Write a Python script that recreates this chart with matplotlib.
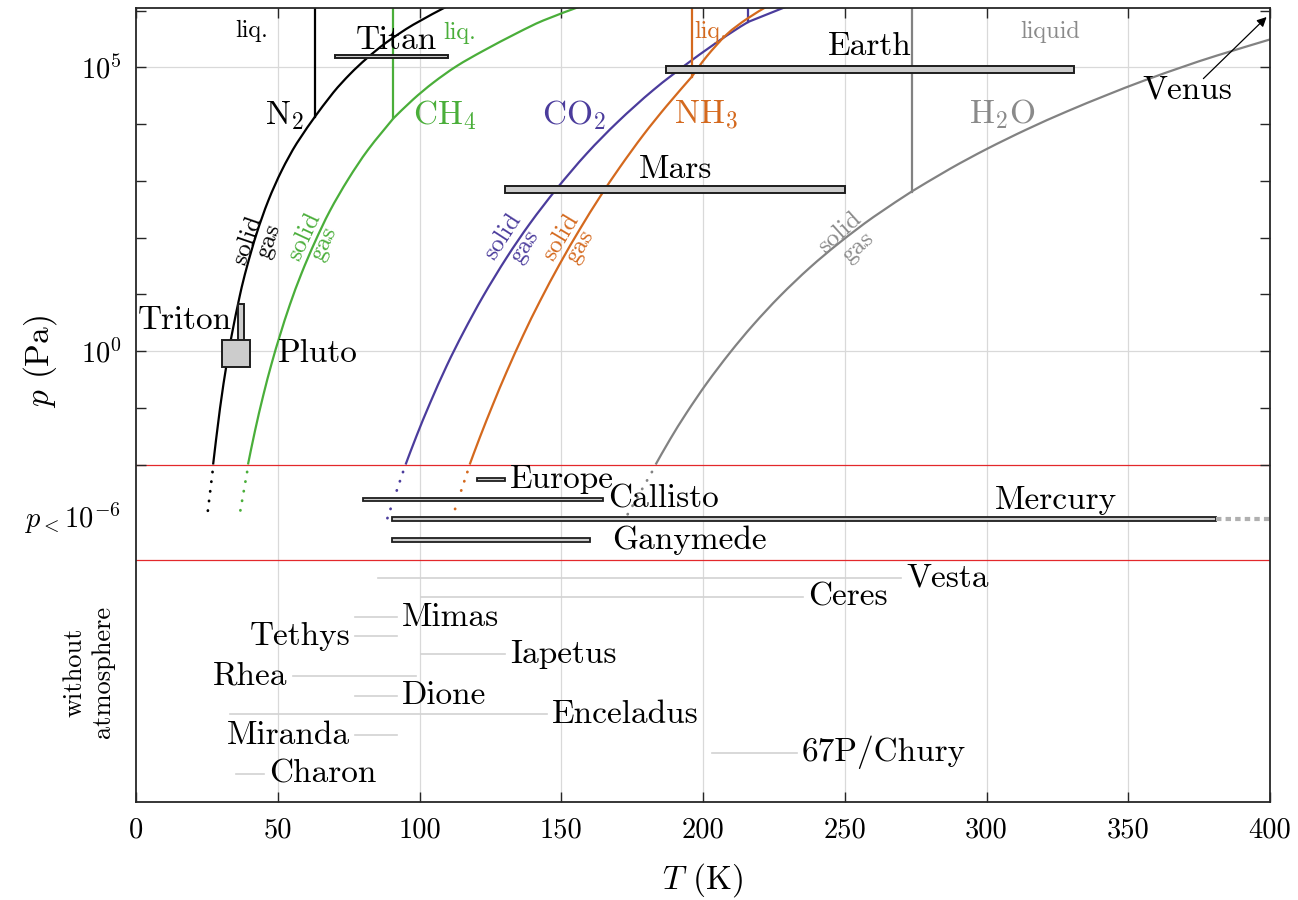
import matplotlib
matplotlib.use('Agg')
import matplotlib.pyplot as plt
from matplotlib.patches import Rectangle, PathPatch
from matplotlib.path import Path
import matplotlib.transforms as mtransforms

plt.rcParams['font.family'] = 'serif'
plt.rcParams['font.serif'] = ['cmr10']
plt.rcParams['mathtext.fontset'] = 'cm'
plt.rcParams['axes.unicode_minus'] = False
plt.rcParams['axes.formatter.use_mathtext'] = True

# ---------------- data (T in K, y = log10(p / Pa)) ----------------
n2_sub_T = [27.2, 29.63, 32.0, 33.76, 36.68, 39.05, 42.58, 46.67, 51.4, 56.7, 63.14]
n2_sub_L = [-2.0, -1.01, -0.22, 0.28, 0.99, 1.47, 2.075, 2.65, 3.18, 3.66, 4.13]
n2_liq_T = [63.14, 69.6, 75.5, 81.4, 88.4, 97.8, 109.6]
n2_liq_L = [4.13, 4.555, 4.88, 5.157, 5.44, 5.75, 6.07]

ch4_sub_T = [39.5, 42.0, 44.9, 47.9, 50.8, 54.3, 58.4, 63.1, 68.4, 74.9, 81.9, 90.8]
ch4_sub_L = [-2.0, -1.40, -0.78, -0.21, 0.28, 0.82, 1.37, 1.92, 2.47, 3.03, 3.55, 4.10]
ch4_liq_T = [90.8, 97.8, 104.9, 113.1, 122.5, 134.3, 143.7, 156.6]
ch4_liq_L = [4.10, 4.435, 4.73, 5.02, 5.29, 5.60, 5.825, 6.07]

co2_sub_T = [95.1, 99.0, 103.7, 109.6, 115.5, 122.5, 130.8, 139.0, 148.4, 159.0, 170.0, 182.5, 195.4, 208.4, 216.0]
co2_sub_L = [-2.0, -1.49, -0.92, -0.26, 0.33, 0.97, 1.65, 2.25, 2.86, 3.48, 4.04, 4.60, 5.10, 5.56, 5.80]
co2_liq_T = [216.0, 229.5]
co2_liq_L = [5.80, 6.07]

nh3_sub_T = [117.7, 121.3, 126.0, 130.8, 136.6, 142.5, 149.6, 156.6, 163.7, 170.7, 179.0, 187.2, 196.0]
nh3_sub_L = [-2.0, -1.52, -0.93, -0.36, 0.28, 0.88, 1.545, 2.15, 2.72, 3.24, 3.81, 4.32, 4.83]
nh3_liq_T = [196.0, 201.3, 208.4, 215.4, 222.5]
nh3_liq_L = [4.83, 5.19, 5.58, 5.85, 6.07]

h2o_sub_T = [183.3, 188.4, 194.2, 201.3, 209.5, 217.7, 227.2, 237.7, 248.3, 260.1, 273.6]
h2o_sub_L = [-2.0, -1.555, -1.09, -0.57, -0.03, 0.46, 0.97, 1.47, 1.915, 2.36, 2.81]
h2o_liq_T = [273.6, 287.1, 300.1, 314.2, 328.3, 342.4, 355.3, 369.4, 381.2, 400.0]
h2o_liq_L = [2.81, 3.21, 3.56, 3.905, 4.22, 4.51, 4.76, 5.01, 5.205, 5.49]

# dotted continuation below 10^-2 Pa : (T at start, T at end)
dot_T_start = {'N2': 27.0, 'CH4': 39.2, 'CO2': 94.2, 'NH3': 116.9, 'H2O': 182.0}
dot_T_end = {'N2': 25.0, 'CH4': 36.3, 'CO2': 88.6, 'NH3': 111.4, 'H2O': 172.5}

# bodies with atmosphere: T range and log10(p) range
atm_names = ['Titan', 'Earth', 'Mars', 'Triton', 'Pluto']
atm_tmin = [70.2, 187.1, 130.2, 36.1, 30.2]
atm_tmax = [110.0, 331.0, 250.2, 38.1, 40.2]
atm_lmin = [5.158, 4.904, 2.779, 0.164, -0.287]
atm_lmax = [5.216, 5.022, 2.907, 0.828, 0.194]

# bodies with p < 1e-6 Pa (row level, T range)
thin_names = ['Europe', 'Callisto', 'Mercury', 'Ganymede']
thin_level = [-2.262, -2.614, -2.958, -3.332]
thin_tmin = [120.2, 80.0, 90.2, 90.2]
thin_tmax = [130.2, 164.7, 380.8, 160.0]

# bodies without atmosphere
noatm_names = ['Vesta', 'Ceres', 'Mimas', 'Tethys', 'Iapetus', 'Rhea', 'Dione',
               'Enceladus', 'Miranda', '67P/Chury', 'Charon']
noatm_level = [-4.005, -4.340, -4.693, -5.022, -5.339, -5.722, -6.074, -6.402, -6.767, -7.079, -7.459]
noatm_tmin = [85.3, 100.4, 77.4, 77.4, 100.4, 55.3, 77.4, 33.3, 77.4, 203.3, 35.2]
noatm_tmax = [270.0, 235.2, 91.9, 91.9, 130.2, 98.8, 91.9, 144.9, 91.9, 233.0, 45.0]
noatm_side = ['r', 'r', 'r', 'l', 'r', 'l', 'r', 'r', 'l', 'r', 'r']

x_ticks = [0, 50, 100, 150, 200, 250, 300, 350, 400]

# ---------------- style ----------------
c_n2, c_ch4, c_co2, c_nh3, c_h2o = '#000000', '#4aae3a', '#4b3c9c', '#d4691e', '#828282'
c_h2o_txt = '#8a8a8a'
YBOT, YTOP = -7.947, 6.053
LBL = 24
SMALL = 17.5
TICK = 20.5

fig = plt.figure(figsize=(12.98, 9.0), dpi=100)
ax = fig.add_axes([136 / 1298, 98 / 900, 1134 / 1298, 794.5 / 900])
ax.set_xlim(0, 400)
ax.set_ylim(YBOT, YTOP)


def smooth_curve(T, L, color):
    """Draw a smooth (Catmull-Rom / Bezier) path through the read points."""
    pts = list(zip(T, L))
    n = len(pts)
    if n < 3:
        ax.plot(T, L, color=color, lw=1.6, zorder=2)
        return
    verts = [pts[0]]
    codes = [Path.MOVETO]
    for i in range(n - 1):
        p0 = pts[i - 1] if i > 0 else pts[i]
        p1 = pts[i]
        p2 = pts[i + 1]
        p3 = pts[i + 2] if i + 2 < n else pts[i + 1]
        c1 = (p1[0] + (p2[0] - p0[0]) / 6, p1[1] + (p2[1] - p0[1]) / 6)
        c2 = (p2[0] - (p3[0] - p1[0]) / 6, p2[1] - (p3[1] - p1[1]) / 6)
        verts += [c1, c2, p2]
        codes += [Path.CURVE4] * 3
    ax.add_patch(PathPatch(Path(verts, codes), fc='none', ec=color, lw=1.6, zorder=2))


# grid
for xv in x_ticks[1:-1]:
    ax.axvline(xv, color='#d9d9d9', lw=0.9, zorder=0)
for yv in (0, 5):
    ax.axhline(yv, color='#d9d9d9', lw=0.9, zorder=0)

# separators
ax.axhline(-2.0, color='#e3282b', lw=0.9, zorder=1.5)
ax.axhline(-3.683, color='#e3282b', lw=0.9, zorder=1.5)

curves = [
    ('N2', c_n2, n2_sub_T, n2_sub_L, n2_liq_T, n2_liq_L),
    ('CH4', c_ch4, ch4_sub_T, ch4_sub_L, ch4_liq_T, ch4_liq_L),
    ('CO2', c_co2, co2_sub_T, co2_sub_L, co2_liq_T, co2_liq_L),
    ('NH3', c_nh3, nh3_sub_T, nh3_sub_L, nh3_liq_T, nh3_liq_L),
    ('H2O', c_h2o, h2o_sub_T, h2o_sub_L, h2o_liq_T, h2o_liq_L),
]
for key, col, sT, sL, lT, lL in curves:
    smooth_curve(sT, sL, col)
    smooth_curve(lT, lL, col)
    # solid-liquid boundary (vertical from triple point)
    ax.plot([lT[0], lT[0]], [lL[0], YTOP + 0.1], color=col, lw=1.6, zorder=2)
    # dotted continuation
    ax.plot([dot_T_start[key], dot_T_end[key]], [-2.13, thin_level[2]], color=col, lw=2.0,
            ls=(0, (0.1, 3.4)), dash_capstyle='round', zorder=2)

# bars
for tmin, tmax, lmin, lmax in zip(atm_tmin, atm_tmax, atm_lmin, atm_lmax):
    ax.add_patch(Rectangle((tmin, lmin), tmax - tmin, lmax - lmin, fc='#cccccc',
                           ec='#1e1e1e', lw=1.4, zorder=3))
bar_h = 0.06
for lv, tmin, tmax in zip(thin_level, thin_tmin, thin_tmax):
    ax.add_patch(Rectangle((tmin, lv - bar_h / 2), tmax - tmin, bar_h, fc='#cccccc',
                           ec='#1e1e1e', lw=1.3, zorder=3))
ax.plot([thin_tmax[2], 400], [thin_level[2], thin_level[2]], color='#b0b0b0', lw=3.0,
        ls=(0, (1.3, 1.0)), zorder=3)

# without atmosphere lines + labels
for name, lv, tmin, tmax, side in zip(noatm_names, noatm_level, noatm_tmin, noatm_tmax, noatm_side):
    ax.plot([tmin, tmax], [lv, lv], color='#d2d2d2', lw=1.2, zorder=1)
    if side == 'r':
        ax.text(tmax + 1.8, lv, name, ha='left', va='center', fontsize=LBL, zorder=4)
    else:
        ax.text(tmin - 1.8, lv, name, ha='right', va='center', fontsize=LBL, zorder=4)

# band labels
ax.text(131.9, thin_level[0], 'Europe', ha='left', va='center', fontsize=LBL, zorder=4)
ax.text(166.5, thin_level[1], 'Callisto', ha='left', va='center', fontsize=LBL, zorder=4)
ax.text(324.5, -2.63, 'Mercury', ha='center', va='center', fontsize=LBL, zorder=4)
ax.text(167.9, thin_level[3], 'Ganymede', ha='left', va='center', fontsize=LBL, zorder=4)

# body labels
ax.text(91.7, 5.48, 'Titan', ha='center', va='center', fontsize=LBL, zorder=4)
ax.text(258.9, 5.362, 'Earth', ha='center', va='center', fontsize=LBL, zorder=4)
ax.text(190.4, 3.204, 'Mars', ha='center', va='center', fontsize=LBL, zorder=4)
ax.text(33.75, 0.537, 'Triton', ha='right', va='center', fontsize=LBL, zorder=4)
ax.text(50.2, -0.035, 'Pluto', ha='left', va='center', fontsize=LBL, zorder=4)
ax.text(370.9, 4.60, 'Venus', ha='center', va='center', fontsize=LBL, zorder=4)
ax.annotate('', xy=(398.8, 5.885), xytext=(376.5, 4.80),
            arrowprops=dict(arrowstyle='-|>', color='k', lw=0.9, mutation_scale=14,
                            shrinkA=0, shrinkB=0), zorder=4)

# substance labels
ax.text(52.4, 4.14, r'N$_2$', color=c_n2, ha='center', va='center', fontsize=LBL)
ax.text(108.8, 4.16, r'CH$_4$', color=c_ch4, ha='center', va='center', fontsize=LBL)
ax.text(154.5, 4.16, r'CO$_2$', color=c_co2, ha='center', va='center', fontsize=LBL)
ax.text(201.1, 4.16, r'NH$_3$', color=c_nh3, ha='center', va='center', fontsize=LBL)
ax.text(305.5, 4.176, r'H$_2$O', color=c_h2o_txt, ha='center', va='center', fontsize=LBL)

ax.text(40.9, 5.64, 'liq.', color=c_n2, ha='center', va='center', fontsize=SMALL)
ax.text(114.3, 5.60, 'liq.', color=c_ch4, ha='center', va='center', fontsize=SMALL)
ax.text(202.8, 5.627, 'liq.', color=c_nh3, ha='center', va='center', fontsize=SMALL)
ax.text(322.6, 5.627, 'liquid', color=c_h2o_txt, ha='center', va='center', fontsize=SMALL)

sg = [  # (solid T, solid L, gas T, gas L, rotation, colour)
    (39.5, 1.954, 46.9, 1.937, 71, c_n2),
    (59.3, 2.007, 66.3, 1.90, 65, c_ch4),
    (129.5, 2.02, 137.2, 1.85, 57, c_co2),
    (149.9, 2.00, 156.6, 1.85, 59, c_nh3),
    (248.3, 2.09, 254.7, 1.83, 42, c_h2o_txt),
]
for sT, sL, gT, gL, rot, col in sg:
    ax.text(sT, sL, 'solid', color=col, rotation=rot, ha='center', va='center',
            fontsize=18, rotation_mode='anchor')
    ax.text(gT, gL, 'gas', color=col, rotation=rot, ha='center', va='center',
            fontsize=18, rotation_mode='anchor')

# axes, ticks
for s in ax.spines.values():
    s.set_color('#262626')
    s.set_linewidth(1.3)
    s.set_zorder(5)
ax.set_xticks(x_ticks)
ax.set_xticklabels([str(v) for v in x_ticks])
ax.set_yticks([0, 5])
ax.set_yticklabels([r'$10^{0}$', r'$10^{5}$'])
ax.set_yticks([-2, -1, 1, 2, 3, 4, 6], minor=True)
ax.tick_params(which='both', direction='in', top=True, right=True, length=7, width=1.0,
               color='#262626')
ax.tick_params(axis='both', labelsize=TICK)
ax.tick_params(axis='x', pad=11)
ax.tick_params(axis='y', pad=10)

trans = mtransforms.blended_transform_factory(ax.transAxes, ax.transData)
ax.text(-0.013, thin_level[2], r'$p_{<}10^{-6}$', transform=trans, ha='right', va='center',
        fontsize=TICK)
ax.text(-0.0847, 0.554, r'$p$ (Pa)', transform=ax.transAxes, rotation=90, ha='center',
        va='center', fontsize=24)
ax.text(-0.0414, 0.1636, 'without\natmosphere', transform=ax.transAxes, rotation=90,
        ha='center', va='center', fontsize=19, linespacing=1.25)
ax.text(0.5, -0.098, r'$T$ (K)', transform=ax.transAxes, ha='center', va='center',
        fontsize=24)

fig.savefig('out.png', dpi=100)
